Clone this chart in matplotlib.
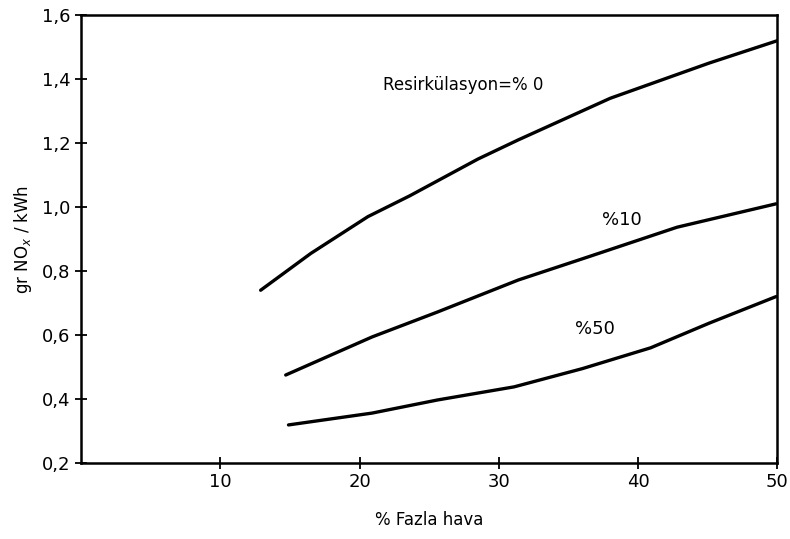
import numpy as np
import matplotlib.pyplot as plt

# NOx vs excess air, three recirculation rates
x_r0 = [12.9, 16.5, 20.6, 23.6, 28.5, 31.4, 38.0, 45.1, 50.0]
y_r0 = [0.74, 0.855, 0.97, 1.035, 1.15, 1.21, 1.34, 1.45, 1.52]

x_r10 = [14.7, 20.9, 25.6, 31.4, 36.4, 42.8, 49.9]
y_r10 = [0.475, 0.594, 0.672, 0.772, 0.844, 0.937, 1.01]

x_r50 = [14.9, 20.9, 25.6, 31.1, 36.0, 40.9, 45.1, 49.9]
y_r50 = [0.319, 0.356, 0.397, 0.438, 0.495, 0.56, 0.637, 0.72]

xticks = [10, 20, 30, 40, 50]
yticks = [0.2, 0.4, 0.6, 0.8, 1.0, 1.2, 1.4, 1.6]
ytick_labels = ["0,2", "0,4", "0,6", "0,8", "1,0", "1,2", "1,4", "1,6"]

fig = plt.figure(figsize=(7.9, 5.39), dpi=100)
ax = fig.add_axes([0.1025, 0.141, 0.8815, 0.831])

for xs, ys in [(x_r0, y_r0), (x_r10, y_r10), (x_r50, y_r50)]:
    ax.plot(xs, ys, color="black", lw=2.4, solid_capstyle="round", solid_joinstyle="round")

ax.text(21.7, 1.38, "Resirkülasyon=% 0", fontsize=12, ha="left", va="center")
ax.text(37.4, 0.96, "%10", fontsize=13, ha="left", va="center")
ax.text(35.5, 0.62, "%50", fontsize=13, ha="left", va="center")

ax.set_xlim(0, 50)
ax.set_ylim(0.2, 1.6)
ax.set_xticks(xticks)
ax.set_yticks(yticks)
ax.set_yticklabels(ytick_labels)
ax.tick_params(direction="inout", length=8, width=1.3, labelsize=13)
for s in ax.spines.values():
    s.set_linewidth(1.8)

ax.set_xlabel("% Fazla hava", fontsize=12, labelpad=14)
ax.set_ylabel("gr NO$_x$ / kWh", fontsize=12, labelpad=6)

fig.savefig("out.png", dpi=100)
